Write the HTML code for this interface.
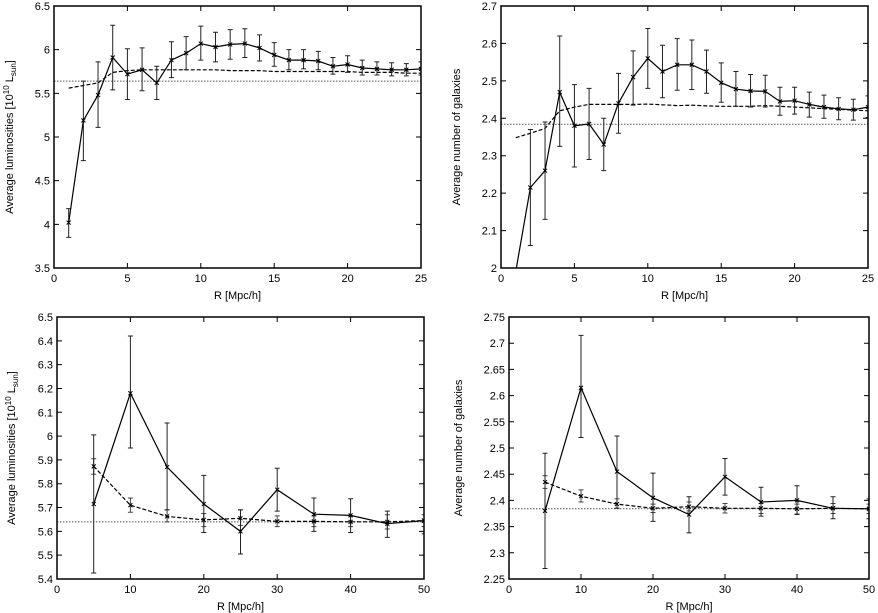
<!DOCTYPE html>
<html><head><meta charset="utf-8"><style>
body{margin:0;background:#fff}
svg{display:block;font-family:"Liberation Sans",sans-serif}
</style></head><body>
<svg id="c" width="878" height="613" viewBox="0 0 878 613" xmlns="http://www.w3.org/2000/svg"></svg>
<script>
// ---- data ----
const xTop = [1,2,3,4,5,6,7,8,9,10,11,12,13,14,15,16,17,18,19,20,21,22,23,24,25];
const lumTop = [4.02,5.19,5.48,5.91,5.72,5.77,5.62,5.88,5.96,6.07,6.03,6.06,6.07,6.02,5.94,5.88,5.88,5.87,5.81,5.83,5.79,5.78,5.77,5.77,5.78];
const lumTopLo = [3.85,4.73,5.11,5.54,5.43,5.53,5.43,5.68,5.77,5.88,5.86,5.89,5.91,5.87,5.81,5.77,5.78,5.77,5.72,5.74,5.71,5.71,5.70,5.70,5.71];
const lumTopHi = [4.18,5.64,5.86,6.28,6.01,6.02,5.81,6.09,6.15,6.27,6.20,6.23,6.24,6.17,6.08,6.00,6.00,5.98,5.91,5.93,5.88,5.86,5.85,5.84,5.86];
const lumTopRand = [5.56,5.59,5.62,5.74,5.76,5.77,5.77,5.77,5.77,5.77,5.77,5.76,5.76,5.76,5.75,5.75,5.75,5.75,5.75,5.75,5.74,5.74,5.74,5.73,5.73];
const numTop = [1.99,2.215,2.26,2.47,2.38,2.385,2.33,2.44,2.51,2.56,2.525,2.543,2.543,2.525,2.495,2.478,2.473,2.472,2.445,2.447,2.437,2.43,2.425,2.423,2.43];
const numTopLo = [1.99,2.06,2.13,2.325,2.27,2.29,2.26,2.36,2.435,2.48,2.455,2.475,2.477,2.467,2.443,2.432,2.43,2.43,2.408,2.411,2.403,2.4,2.396,2.395,2.402];
const numTopHi = [1.99,2.37,2.39,2.62,2.49,2.48,2.40,2.52,2.58,2.64,2.595,2.613,2.609,2.582,2.548,2.525,2.517,2.515,2.483,2.483,2.47,2.462,2.455,2.451,2.46];
const numTopRand = [2.348,2.36,2.373,2.42,2.43,2.437,2.437,2.437,2.437,2.438,2.436,2.434,2.435,2.433,2.432,2.432,2.432,2.434,2.432,2.43,2.428,2.426,2.424,2.422,2.42];
const xBot = [5,10,15,20,25,30,35,40,45,50];
const lumBot = [5.715,6.18,5.87,5.715,5.60,5.775,5.672,5.667,5.632,5.645];
const lumBotLo = [5.425,5.95,5.69,5.595,5.505,5.685,5.60,5.595,5.575,5.59];
const lumBotHi = [6.005,6.42,6.055,5.835,5.69,5.865,5.74,5.737,5.685,5.70];
const lumBotRand = [5.873,5.71,5.663,5.648,5.655,5.642,5.642,5.64,5.64,5.645];
const lumBotRandLo = [5.84,5.68,5.64,5.62,5.625,5.62,5.62,5.62,5.61,5.62];
const lumBotRandHi = [5.905,5.74,5.69,5.675,5.69,5.665,5.665,5.665,5.67,5.67];
const numBot = [2.38,2.615,2.455,2.405,2.373,2.445,2.397,2.40,2.385,2.384];
const numBotLo = [2.27,2.52,2.385,2.36,2.338,2.41,2.37,2.373,2.365,2.365];
const numBotHi = [2.49,2.715,2.523,2.452,2.407,2.48,2.425,2.428,2.407,2.403];
const numBotRand = [2.435,2.408,2.393,2.385,2.388,2.385,2.385,2.384,2.385,2.384];
const numBotRandLo = [2.423,2.397,2.385,2.377,2.38,2.376,2.375,2.374,2.375,2.375];
const numBotRandHi = [2.447,2.42,2.403,2.393,2.397,2.394,2.394,2.393,2.394,2.393];
const meanLum = 5.64;
const meanNum = 2.384;
const xTicksTop = [0,5,10,15,20,25];
const xTicksBot = [0,10,20,30,40,50];
const yTicksTL = [3.5,4,4.5,5,5.5,6,6.5];
const yTicksTR = [2,2.1,2.2,2.3,2.4,2.5,2.6,2.7];
const yTicksBL = [5.4,5.5,5.6,5.7,5.8,5.9,6,6.1,6.2,6.3,6.4,6.5];
const yTicksBR = [2.25,2.3,2.35,2.4,2.45,2.5,2.55,2.6,2.65,2.7,2.75];

const NS="http://www.w3.org/2000/svg";
const svg=document.getElementById('c');
function mk(tag,attrs,parent){const e=document.createElementNS(NS,tag);for(const k in attrs)e.setAttribute(k,attrs[k]);(parent||svg).appendChild(e);return e;}

function panel(id,box,xr,yr,xt,yt,ylabel,ylx,series){
  const g=mk('g',{});
  
  
  const [L,T,R,B]=box;
  const sx=v=>L+(v-xr[0])/(xr[1]-xr[0])*(R-L);
  const sy=v=>B-(v-yr[0])/(yr[1]-yr[0])*(B-T);
  const clip='cl-'+id;
  const d=mk('defs',{},g);const cp=mk('clipPath',{id:clip},d);mk('rect',{x:L,y:T,width:R-L,height:B-T},cp);
  const plot=mk('g',{'clip-path':'url(#'+clip+')'},g);
  // mean dotted
  const ml=mk('line',{x1:L,x2:R,y1:sy(series.mean),y2:sy(series.mean),stroke:'#555','stroke-width':1,'stroke-dasharray':'1.5,1.5'},plot);
  
  
  function line(xs,ys,dash,name){
    let p='';xs.forEach((x,i)=>{p+=(i?'L':'M')+sx(x).toFixed(1)+','+sy(ys[i]).toFixed(1);});
    const e=mk('path',{d:p,fill:'none',stroke:'#000','stroke-width':1.2,'stroke-dasharray':dash||'none'},plot);
    
    
  }
  function errs(xs,lo,hi,col,name){
    xs.forEach((x,i)=>{
      const X=sx(x),a=sy(lo[i]),b=sy(hi[i]);
      const e=mk('path',{d:`M${X},${a}V${b}M${X-2.5},${a}H${X+2.5}M${X-2.5},${b}H${X+2.5}`,stroke:col,'stroke-width':1,fill:'none'},plot);
      
      
    });
  }
  function marks(xs,ys,name){
    xs.forEach((x,i)=>{const X=sx(x),Y=sy(ys[i]);
      const e=mk('path',{d:`M${X-2},${Y-2}L${X+2},${Y+2}M${X-2},${Y+2}L${X+2},${Y-2}`,stroke:'#000','stroke-width':1},plot);
      
      });
  }
  if(series.rand){line(series.x,series.rand,'4,2','random-line');if(series.randLo)errs(series.x,series.randLo,series.randHi,'#444','random-error-bar');}
  errs(series.x,series.lo,series.hi,'#222','error-bar');
  line(series.x,series.y,null,'data-line');
  marks(series.x,series.y,'data-point');
  if(series.randLo)marks(series.x,series.rand,'random-point');
  // frame
  const fr=mk('rect',{x:L,y:T,width:R-L,height:B-T,fill:'none',stroke:'#000','stroke-width':1.5},g);
  
  
  xt.forEach(v=>{const X=sx(v);
    mk('path',{d:`M${X},${B}v-5M${X},${T}v5`,stroke:'#000','stroke-width':1},g);
    const t=mk('text',{x:X,y:B+14,'font-size':11,'text-anchor':'middle'},g);t.textContent=v;
    
    });
  yt.forEach(v=>{const Y=sy(v);
    mk('path',{d:`M${L},${Y}h5M${R},${Y}h-5`,stroke:'#000','stroke-width':1},g);
    const t=mk('text',{x:L-4,y:Y+4,'font-size':11,'text-anchor':'end'},g);t.textContent=v;
    
    });
  const xl=mk('text',{x:(L+R)/2,y:B+31,'font-size':11,'text-anchor':'middle'},g);xl.textContent='R [Mpc/h]';
  
  
  const yl=mk('text',{x:0,y:0,'font-size':11,'text-anchor':'middle',transform:`translate(${ylx},${(T+B)/2}) rotate(-90)`},g);
  yl.innerHTML=ylabel;
  
  
}
const lumLabel='Average luminosities [10<tspan dy="-4" font-size="8">10</tspan><tspan dy="4"> L</tspan><tspan dy="3" font-size="8">sun</tspan><tspan dy="-3">]</tspan>';
const numLabel='Average number of galaxies';
panel('luminosity-vs-r-top',[54,6,421,268],[0,25],[3.5,6.5],xTicksTop,yTicksTL,lumLabel,13,
  {x:xTop,y:lumTop,lo:lumTopLo,hi:lumTopHi,rand:lumTopRand,mean:meanLum});
panel('galaxies-vs-r-top',[501,6,868,268],[0,25],[2,2.7],xTicksTop,yTicksTR,numLabel,460,
  {x:xTop,y:numTop,lo:numTopLo,hi:numTopHi,rand:numTopRand,mean:meanNum});
panel('luminosity-vs-r-bottom',[57,317,424,579],[0,50],[5.4,6.5],xTicksBot,yTicksBL,lumLabel,15,
  {x:xBot,y:lumBot,lo:lumBotLo,hi:lumBotHi,rand:lumBotRand,randLo:lumBotRandLo,randHi:lumBotRandHi,mean:meanLum});
panel('galaxies-vs-r-bottom',[509,317,869,579],[0,50],[2.25,2.75],xTicksBot,yTicksBR,numLabel,462,
  {x:xBot,y:numBot,lo:numBotLo,hi:numBotHi,rand:numBotRand,randLo:numBotRandLo,randHi:numBotRandHi,mean:meanNum});
</script>
</body></html>
